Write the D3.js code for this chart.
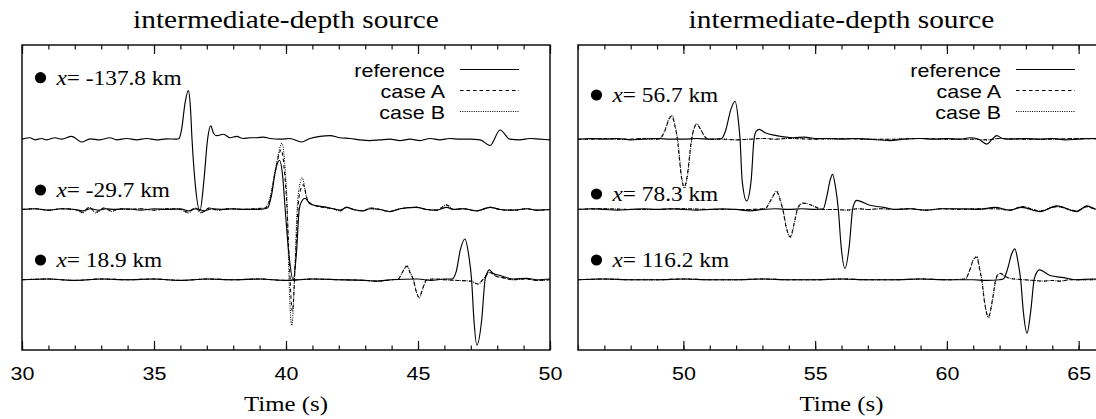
<!DOCTYPE html>
<html><head><meta charset="utf-8">
<script src="https://cdn.jsdelivr.net/npm/d3@7/dist/d3.min.js"></script>
<style>html,body{margin:0;padding:0;background:#fff;overflow:hidden}</style>
</head><body>
<script>
// ---------------- DATA ----------------
const panelTitles = ["intermediate-depth source", "intermediate-depth source"];
const leftDomain = [30, 50];
const rightDomain = [46, 66];
const leftTickLabels = [30, 35, 40, 45, 50];
const rightTickLabels = [50, 55, 60, 65];
const leftStations = ["-137.8", "-29.7", "18.9"];
const rightStations = ["56.7", "78.3", "116.2"];
const traceOffsets = [2, 1, 0];
const seriesNames = ["reference", "case A", "case B"];

// left panel, x = -137.8 km (all three cases coincide)
const L1_ref = [[30,0],[30.3,0.02],[30.49,-0.01],[30.75,0.01],[30.93,-0.01],[31.25,0.02],[31.5,0],[31.88,0.04],[32.26,-0.04],[32.58,0.005],[32.95,-0.01],[33.33,0.02],[33.59,-0.01],[33.97,0.01],[34.34,-0.01],[34.72,0.01],[35.1,-0.01],[35.48,0.005],[35.86,0],[35.95,0.01],[36.05,0.15],[36.17,0.5],[36.3,0.69],[36.38,0.45],[36.44,0],[36.55,-0.59],[36.74,-1.02],[36.89,-0.59],[37.03,0],[37.15,0.19],[37.26,0.08],[37.37,0.05],[37.63,0.07],[37.88,0.02],[38.13,0.04],[38.38,0.01],[38.64,0.02],[38.89,0.02],[39.14,0.03],[39.39,0.01],[39.77,0],[40.15,0.01],[40.59,-0.04],[40.91,0.01],[41.29,0.04],[41.67,0.05],[42.05,0.02],[42.42,0.01],[42.8,-0.01],[43.18,-0.02],[43.56,-0.01],[43.94,0],[44.32,-0.02],[44.7,0],[45.08,-0.02],[45.45,0.01],[45.83,-0.01],[46.21,0.01],[46.59,0],[46.97,0],[47.35,-0.01],[47.73,-0.09],[48.11,0.13],[48.48,0],[48.86,-0.01],[49.24,0.01],[49.62,0],[50,-0.01]];

// left panel, x = -29.7 km
const L2_ref = [[30,0],[30.5,0.01],[31,-0.01],[31.5,0.01],[32,0],[32.3,-0.02],[32.6,0.01],[32.9,-0.01],[33.2,0.01],[33.5,0],[34,0.01],[34.5,-0.01],[35,0.01],[35.5,0],[36,0.01],[36.3,-0.02],[36.6,0.01],[36.9,-0.02],[37.2,0.01],[37.6,0],[38,0.01],[38.5,0],[39,0],[39.3,0.02],[39.45,0.2],[39.6,0.55],[39.75,0.7],[39.88,0.45],[39.97,0],[40.1,-0.6],[40.27,-1.0],[40.4,-0.6],[40.5,0],[40.6,0.12],[40.72,0.16],[40.91,0.08],[41.16,0.05],[41.41,0.04],[41.79,0.01],[42.05,-0.01],[42.3,0.03],[42.55,0],[42.93,-0.02],[43.18,0.01],[43.56,0],[43.94,-0.03],[44.32,0.01],[44.95,0.03],[45.33,0],[45.71,-0.01],[46.09,0.03],[46.34,0],[46.72,0.01],[47.22,-0.02],[47.73,0.03],[48.11,0],[48.61,-0.01],[49.12,0.01],[49.5,-0.01],[50,0]];
const L2_caseA = [[30,0],[30.5,0.01],[31,-0.01],[31.5,0.01],[32,0],[32.3,-0.04],[32.55,0.03],[32.8,-0.04],[33.1,0.02],[33.4,-0.02],[33.7,0.01],[34,0],[34.5,0.01],[35,-0.01],[35.5,0.01],[36,0],[36.3,-0.04],[36.55,0.02],[36.8,-0.04],[37.1,0.02],[37.4,-0.01],[37.8,0.01],[38.3,0],[38.8,0.01],[39.2,0.02],[39.4,0.15],[39.6,0.55],[39.82,0.85],[39.95,0.5],[40.04,0],[40.12,-0.7],[40.24,-1.45],[40.36,-0.7],[40.45,0],[40.55,0.28],[40.66,0.35],[40.8,0.15],[40.95,0.08],[41.16,0.05],[41.41,0.03],[41.79,0.01],[42.05,-0.02],[42.3,0.03],[42.55,0],[42.93,-0.02],[43.18,0.02],[43.56,0],[43.94,-0.03],[44.32,0.01],[44.95,0.03],[45.33,0],[45.71,-0.01],[46.09,0.06],[46.34,0],[46.72,0.01],[47.22,-0.02],[47.73,0.03],[48.11,0],[48.61,-0.01],[49.12,0.01],[49.5,-0.01],[50,0]];
const L2_caseB = [[30,0],[30.5,0.01],[31,-0.01],[31.5,0.01],[32,0],[32.3,-0.05],[32.55,0.03],[32.8,-0.05],[33.1,0.02],[33.4,-0.03],[33.7,0.01],[34,0],[34.5,0.01],[35,-0.01],[35.5,0.01],[36,0],[36.3,-0.05],[36.55,0.02],[36.8,-0.05],[37.1,0.02],[37.4,-0.01],[37.8,0.01],[38.3,0],[38.8,0.01],[39.2,0.02],[39.4,0.18],[39.62,0.62],[39.85,0.94],[39.98,0.5],[40.05,0],[40.1,-0.8],[40.22,-1.65],[40.34,-0.8],[40.42,0],[40.52,0.35],[40.62,0.45],[40.76,0.2],[40.92,0.08],[41.16,0.05],[41.41,0.03],[41.79,0.01],[42.05,-0.02],[42.3,0.03],[42.55,0],[42.93,-0.02],[43.18,0.02],[43.56,0],[43.94,-0.03],[44.32,0.01],[44.95,0.03],[45.33,0],[45.71,-0.01],[46.09,0.07],[46.34,0],[46.72,0.01],[47.22,-0.02],[47.73,0.03],[48.11,0],[48.61,-0.01],[49.12,0.01],[49.5,-0.01],[50,0]];

// left panel, x = 18.9 km
const L3_ref = [[30,0],[31,0.01],[32,-0.01],[33,0.01],[34,0],[35,0.01],[36,-0.01],[37,0.01],[38,0],[39,0.01],[40,-0.01],[41,0.01],[42,0],[43,-0.01],[43.43,-0.02],[44,0],[45,0.01],[45.5,-0.01],[46,0.01],[46.28,0.01],[46.45,0.12],[46.6,0.42],[46.78,0.58],[46.92,0.35],[47.03,0],[47.12,-0.58],[47.23,-0.93],[47.41,-0.58],[47.54,0],[47.62,0.1],[47.7,0.14],[47.85,0.09],[48.11,0.06],[48.61,0.01],[49.12,0.02],[49.5,0],[50,0.01]];
const L3_caseA = [[30,0],[31,0.01],[32,-0.01],[33,0.01],[34,0],[35,0.01],[36,-0.01],[37,0.01],[38,0],[39,0.01],[40,-0.01],[41,0.01],[42,0],[43,-0.01],[43.43,-0.02],[44,0],[44.25,0.01],[44.4,0.1],[44.58,0.19],[44.72,0.08],[44.82,0],[44.92,-0.15],[45.04,-0.25],[45.18,-0.12],[45.33,0],[45.6,0.01],[46,0],[46.5,-0.01],[47,-0.02],[47.27,-0.06],[47.5,0.02],[47.73,0.1],[47.95,0.05],[48.2,0.03],[48.6,0],[49.1,0.01],[49.5,-0.01],[50,0]];
const L3_caseB = [[30,0],[31,0.01],[32,-0.01],[33,0.01],[34,0],[35,0.01],[36,-0.01],[37,0.01],[38,0],[39,0.01],[40,-0.01],[41,0.01],[42,0],[43,-0.01],[43.43,-0.02],[44,0],[44.25,0.01],[44.41,0.11],[44.59,0.2],[44.73,0.08],[44.83,0],[44.93,-0.16],[45.05,-0.26],[45.19,-0.12],[45.34,0],[45.6,0.01],[46,0],[46.5,-0.01],[47,-0.02],[47.28,-0.06],[47.5,0.02],[47.74,0.11],[47.96,0.05],[48.2,0.03],[48.6,0],[49.1,0.01],[49.5,-0.01],[50,0]];

// right panel, x = 56.7 km
const R1_ref = [[46,0],[46.5,0.01],[47,0],[47.5,0.01],[48,-0.01],[48.5,0],[49,0.01],[49.5,0],[50,0],[50.5,0.01],[51,0],[51.45,0.01],[51.6,0.12],[51.8,0.42],[51.96,0.54],[52.09,0.25],[52.15,0],[52.23,-0.59],[52.4,-0.88],[52.57,-0.59],[52.68,0],[52.76,0.11],[52.88,0.14],[53.1,0.09],[53.54,0.05],[54.17,0.02],[54.6,0.03],[55,0.01],[55.5,0.01],[56,0],[56.5,0.01],[57,0],[57.84,-0.02],[58.35,0],[59,0.01],[59.5,0],[60,0.01],[60.5,0],[60.88,0.02],[61.2,0],[61.51,-0.07],[61.72,0],[61.89,0.05],[62.1,0.01],[62.27,0],[63,0.01],[63.5,0],[64,0.01],[64.5,-0.01],[65,0],[65.5,0.01],[66,0]];
const R1_caseA = [[46,0],[46.5,0],[47,0.01],[47.5,0],[48,0],[48.5,0.01],[49,0],[49.11,0.01],[49.3,0.12],[49.45,0.28],[49.56,0.33],[49.67,0.2],[49.77,0],[49.93,-0.55],[50.03,-0.68],[50.13,-0.55],[50.31,0],[50.4,0.15],[50.5,0.21],[50.65,0.14],[50.8,0.04],[50.95,0],[51.5,0],[52,-0.01],[52.5,0],[53,0.01],[53.5,0],[54,0.01],[55,0],[56,0.01],[57,0],[58,0],[59,0.01],[60,0],[61,0],[61.5,-0.01],[62,0.01],[63,0],[64,0],[65,0.01],[66,0]];
const R1_caseB = [[46,0],[46.5,0],[47,0.01],[47.5,0],[48,0],[48.5,0.01],[49,0],[49.11,0.01],[49.3,0.13],[49.45,0.29],[49.57,0.34],[49.68,0.2],[49.78,0],[49.94,-0.56],[50.04,-0.7],[50.14,-0.56],[50.32,0],[50.41,0.16],[50.51,0.22],[50.66,0.14],[50.81,0.04],[50.96,0],[51.5,0],[52,-0.01],[52.5,0],[53,0.01],[53.5,0],[54,0.01],[55,0],[56,0.01],[57,0],[58,0],[59,0.01],[60,0],[61,0],[61.5,-0.01],[62,0.01],[63,0],[64,0],[65,0.01],[66,0]];

// right panel, x = 78.3 km
const R2_ref = [[46,0],[46.5,0.01],[47,0],[47.5,-0.01],[48,0],[48.5,0.01],[49,0],[49.5,0.01],[50,0],[50.5,-0.01],[51,0],[51.5,0.01],[52,0],[52.53,-0.02],[53,0],[53.5,0.01],[54,0],[54.5,0.01],[55,0],[55.31,0.01],[55.45,0.2],[55.57,0.42],[55.66,0.5],[55.78,0.3],[55.88,0],[55.98,-0.5],[56.13,-0.84],[56.3,-0.5],[56.42,0],[56.5,0.1],[56.57,0.13],[57.08,0.06],[57.59,0.03],[58.1,0],[58.6,0.01],[59.2,-0.01],[59.8,0.01],[60.62,0.01],[61.2,0],[61.83,0.03],[62.39,-0.01],[62.84,0.03],[63.53,-0.03],[64.17,0.05],[64.93,-0.03],[65.31,0.05],[65.69,0],[66,-0.01]];
const R2_caseA = [[46,0],[47,0.01],[48,0],[49,0],[50,0.01],[51,0],[52,0],[52.5,0],[53.1,0.01],[53.3,0.12],[53.54,0.25],[53.68,0.12],[53.77,0],[53.9,-0.25],[54.05,-0.39],[54.2,-0.2],[54.32,0],[54.43,0.07],[54.53,0.09],[54.93,0.05],[55.25,0],[55.7,0],[56.2,-0.01],[56.6,0.01],[57,0],[57.5,0.01],[58,0],[58.6,0.01],[59.2,-0.01],[59.8,0.01],[60.5,0],[61.2,0.01],[61.83,0.01],[62.39,-0.01],[62.84,0.04],[63.53,-0.02],[64.17,0.04],[64.93,-0.02],[65.31,0.04],[65.69,0],[66,0]];
const R2_caseB = [[46,0],[47,0.01],[48,0],[49,0],[50,0.01],[51,0],[52,0],[52.5,0],[53.1,0.01],[53.31,0.13],[53.55,0.26],[53.69,0.12],[53.78,0],[53.91,-0.26],[54.06,-0.4],[54.21,-0.2],[54.33,0],[54.44,0.07],[54.54,0.09],[54.94,0.05],[55.26,0],[55.7,0],[56.2,-0.01],[56.6,0.01],[57,0],[57.5,0.01],[58,0],[58.6,0.01],[59.2,-0.01],[59.8,0.01],[60.5,0],[61.2,0.01],[61.83,0.01],[62.39,-0.01],[62.84,0.04],[63.53,-0.02],[64.17,0.04],[64.93,-0.02],[65.31,0.04],[65.69,0],[66,0]];

// right panel, x = 116.2 km
const R3_ref = [[46,0],[47,0.01],[48,0],[49,0],[50,0.01],[51,0],[52,0],[53,0.01],[54,0],[55,0],[56,0.01],[57,0],[58,0],[59,0.01],[60,0],[61,0],[61.5,-0.01],[62,0],[62.14,0.01],[62.3,0.15],[62.45,0.36],[62.58,0.44],[62.7,0.25],[62.8,0],[62.9,-0.45],[63.04,-0.76],[63.18,-0.45],[63.31,0],[63.42,0.11],[63.51,0.14],[63.91,0.06],[64.42,0.03],[64.93,0],[65.5,0.01],[66,0]];
const R3_caseA = [[46,0],[47,0.01],[48,0],[49,0],[50,0.01],[51,0],[52,0],[53,0.01],[54,0],[55,0],[56,0.01],[57,0],[58,0],[59,0.01],[60,0],[60.69,0.01],[60.88,0.15],[61,0.28],[61.13,0.32],[61.24,0.15],[61.32,0],[61.42,-0.3],[61.57,-0.53],[61.72,-0.3],[61.85,0],[61.95,0.08],[62.02,0.09],[62.2,0.05],[62.39,0.02],[62.9,0],[63.3,-0.01],[63.66,-0.02],[64,-0.01],[64.29,-0.02],[64.67,0],[65.2,0],[66,0]];
const R3_caseB = [[46,0],[47,0.01],[48,0],[49,0],[50,0.01],[51,0],[52,0],[53,0.01],[54,0],[55,0],[56,0.01],[57,0],[58,0],[59,0.01],[60,0],[60.7,0.01],[60.89,0.16],[61.01,0.29],[61.14,0.33],[61.25,0.15],[61.33,0],[61.43,-0.31],[61.58,-0.54],[61.73,-0.3],[61.86,0],[61.96,0.08],[62.03,0.09],[62.2,0.05],[62.39,0.02],[62.9,0],[63.3,-0.01],[63.66,-0.02],[64,-0.01],[64.29,-0.02],[64.67,0],[65.2,0],[66,0]];

const leftTraces = [[L1_ref], [L2_ref, L2_caseA, L2_caseB], [L3_ref, L3_caseA, L3_caseB]];
const rightTraces = [[R1_ref, R1_caseA, R1_caseB], [R2_ref, R2_caseA, R2_caseB], [R3_ref, R3_caseA, R3_caseB]];

// ---------------- DRAW ----------------
const W = 1096, H = 419;
const svg = d3.select("body").append("svg").attr("width", W).attr("height", H)
  .style("background", "#fff");

const SERIF = "'Liberation Serif','Times New Roman',serif";
const SANS = "'Liberation Sans',Arial,Helvetica,sans-serif";
const SX = 1.13; // horizontal glyph stretch seen in the reference
const plotTop = 45, plotBottom = 350;
const dashes = [null, "3.5,3", "1,1.3"];

const panels = [
  {domain: leftDomain, range: [22, 550], ticks: leftTickLabels, stations: leftStations, traces: leftTraces,
   labelY: [77.7, 190, 260]},
  {domain: rightDomain, range: [578, 1105], ticks: rightTickLabels, stations: rightStations, traces: rightTraces,
   labelY: [95, 194, 260]}
];

panels.forEach((p, pi) => {
  const x = d3.scaleLinear().domain(p.domain).range(p.range);
  const y = d3.scaleLinear().domain([-1.0, 3.34]).range([plotBottom, plotTop]);
  const g = svg.append("g");
  const clipId = "clip" + pi;
  svg.append("clipPath").attr("id", clipId).append("rect")
    .attr("x", p.range[0]).attr("y", plotTop).attr("width", p.range[1] - p.range[0]).attr("height", plotBottom - plotTop);

  const minor = d3.range(p.domain[0], p.domain[1] + 1);
  const major = minor.filter(v => v % 5 === 0);
  const axMinB = d3.axisBottom(x).tickValues(minor).tickSize(-4.5).tickSizeOuter(0).tickFormat("");
  const axMinT = d3.axisTop(x).tickValues(minor).tickSize(-4.5).tickSizeOuter(0).tickFormat("");
  const axMajB = d3.axisBottom(x).tickValues(major).tickSize(-9).tickSizeOuter(0).tickFormat(d => p.ticks.includes(d) ? d : "");
  const axMajT = d3.axisTop(x).tickValues(major).tickSize(-9).tickSizeOuter(0).tickFormat("");
  [[axMinB, plotBottom], [axMinT, plotTop], [axMajB, plotBottom], [axMajT, plotTop]].forEach(([ax, yy]) => {
    const a = g.append("g").attr("transform", `translate(0,${yy})`).call(ax);
    a.select(".domain").remove();
    a.selectAll(".tick line").attr("stroke", "#111").attr("stroke-width", 1.2);
    a.selectAll(".tick text").attr("y", 30).attr("dy", 0)
      .attr("font-family", SANS).attr("font-size", 19).attr("fill", "#000")
      .attr("transform", `scale(${SX},1)`);
  });

  g.append("rect").attr("x", p.range[0]).attr("y", plotTop)
    .attr("width", p.range[1] - p.range[0]).attr("height", plotBottom - plotTop)
    .attr("fill", "none").attr("stroke", "#111").attr("stroke-width", 1.5);

  const cx = (p.range[0] + p.range[1]) / 2;
  g.append("text").attr("transform", `translate(${cx},28) scale(${SX},1)`)
    .attr("text-anchor", "middle").attr("font-family", SERIF).attr("font-size", 26)
    .text(panelTitles[pi]);
  g.append("text").attr("transform", `translate(${cx},411) scale(${SX},1)`)
    .attr("text-anchor", "middle").attr("font-family", SERIF).attr("font-size", 22)
    .text("Time (s)");

  const lines = g.append("g").attr("clip-path", `url(#${clipId})`);
  p.traces.forEach((set, ti) => {
    const off = traceOffsets[ti];
    const line = d3.line().x(d => x(d[0])).y(d => y(off + d[1])).curve(d3.curveMonotoneX);
    for (let si = set.length - 1; si >= 0; si--) {
      lines.append("path").attr("d", line(set[si])).attr("fill", "none")
        .attr("stroke", "#000").attr("stroke-width", si === 0 ? 1.15 : 1.05)
        .attr("stroke-dasharray", dashes[si]);
    }
  });

  p.stations.forEach((s, i) => {
    const ly = p.labelY[i];
    g.append("circle").attr("cx", p.range[0] + 18.5).attr("cy", ly).attr("r", 5.6).attr("fill", "#000");
    const t = g.append("text").attr("transform", `translate(${p.range[0] + 34.5},${ly + 7}) scale(1.06,1)`)
      .attr("font-family", SERIF).attr("font-size", 22);
    t.append("tspan").attr("font-style", "italic").text("x");
    t.append("tspan").text("= " + s + " km");
  });

  const lx = p.range[0] + 423;
  const rowY = [69.5, 90.5, 111.5];
  seriesNames.forEach((n, i) => {
    g.append("text").attr("transform", `translate(${lx},${rowY[i] + 7}) scale(${SX},1)`)
      .attr("text-anchor", "end").attr("font-family", SANS).attr("font-size", 19).text(n);
    g.append("line").attr("x1", p.range[0] + 438).attr("x2", p.range[0] + 497)
      .attr("y1", rowY[i]).attr("y2", rowY[i]).attr("stroke", "#000")
      .attr("stroke-width", i === 0 ? 1.15 : 1.05).attr("stroke-dasharray", dashes[i]);
  });
});
</script>
</body></html>
